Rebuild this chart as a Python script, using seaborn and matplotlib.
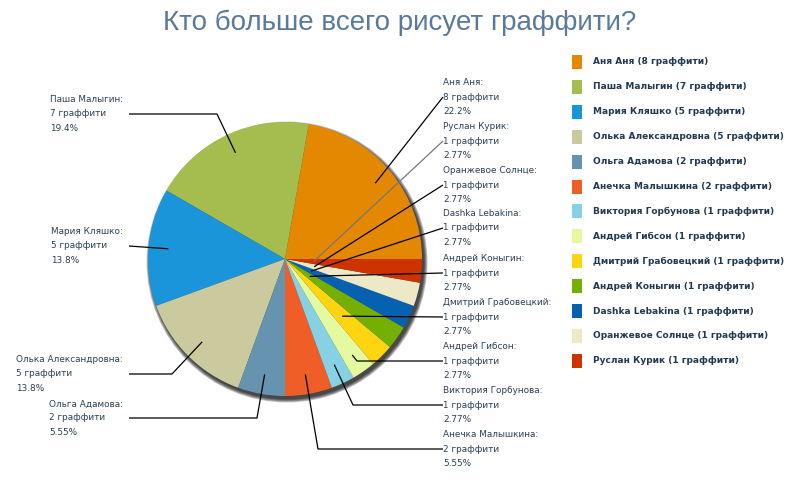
import math
import matplotlib
matplotlib.use("Agg")
import matplotlib.pyplot as plt
from matplotlib.patches import Circle, Rectangle
import seaborn as sns

# данные
names = ["Аня Аня", "Паша Малыгин", "Мария Кляшко", "Олька Александровна",
         "Ольга Адамова", "Анечка Малышкина", "Виктория Горбунова",
         "Андрей Гибсон", "Дмитрий Грабовецкий", "Андрей Коныгин",
         "Dashka Lebakina", "Оранжевое Солнце", "Руслан Курик"]
counts = [8, 7, 5, 5, 2, 2, 1, 1, 1, 1, 1, 1, 1]
colors = ["#E48701", "#A5BC4E", "#1B95D9", "#CACA9E", "#6693B0", "#F05E27",
          "#86D1E4", "#E4F9A0", "#FFD512", "#75B000", "#0662B0", "#EDE8C6",
          "#CC3300"]
title = "Кто больше всего рисует граффити?"

# раскладка подписей (пиксели): сторона, y средней строки, излом линии, радиус конца линии
label_side = ["R", "L", "L", "L", "L", "R", "R", "R", "R", "R", "R", "R", "R"]
label_y = [97, 114, 246, 374, 418, 449, 405, 361, 317, 273, 228, 185, 141]
elbow_x = [443, 217, 129, 172, 257, 318, 353, 357, 443, 443, 443, 443, 443]
end_r = [0.86, 0.855, 0.855, 0.855, 0.855, 0.855, 0.85, 0.855, 0.59, 0.22, 0.21, 0.22, 0.21]

cx, cy, R = 285, 259, 137


def trunc_pct(p):
    # проценты обрезаны до трёх значащих цифр, как в оригинале
    digits = 2 - int(math.floor(math.log10(p)))
    v = math.floor(p * 10 ** digits + 1e-9) / 10 ** digits
    return f"{v:.{digits}f}%"


sns.set_theme(style="white")
plt.rcParams["font.family"] = ["DejaVu Sans"]
palette = sns.color_palette(colors)

fig = plt.figure(figsize=(8, 5), dpi=100)
ax = fig.add_axes([0, 0, 1, 1])

# тень
for i in range(5):
    ax.add_patch(Circle((cx + 2, cy + 3), R + 3.5 - i * 0.8, color="black",
                        alpha=0.22, lw=0, zorder=1))

wedges, _ = ax.pie(counts, colors=palette, startangle=0, counterclock=False,
                   center=(cx, cy), radius=R, wedgeprops=dict(linewidth=0))
for w in wedges:
    w.set_zorder(2)

total = sum(counts)
txt_color = "#2c4052"
cum = 0
for i, (n, c) in enumerate(zip(names, counts)):
    mid = math.radians(-(cum + c / 2) / total * 360)
    cum += c
    ex = cx + end_r[i] * R * math.cos(mid)
    ey = cy + end_r[i] * R * math.sin(mid)
    y = label_y[i]
    start = 443 if label_side[i] == "R" else 129
    lc = "#777777" if n == "Руслан Курик" else "black"
    ax.plot([start, elbow_x[i], ex], [y, y, ey], color=lc, lw=0.9,
            zorder=5, solid_capstyle="butt")
    label = f"{n}:\n{c} граффити\n{trunc_pct(c / total * 100)}"
    if label_side[i] == "R":
        ax.text(443, y, label, ha="left", va="center", multialignment="left",
                fontsize=6.4, color=txt_color, linespacing=1.72, zorder=6)
    else:
        ax.text(123, y, label, ha="right", va="center", multialignment="left",
                fontsize=6.4, color=txt_color, linespacing=1.72, zorder=6)

# легенда
for i, (n, c) in enumerate(zip(names, counts)):
    ly = 62 + i * 24.9
    ax.add_patch(Rectangle((572, ly - 7), 10, 14, color=palette[i], lw=0))
    ax.text(593, ly, f"{n} ({c} граффити)", ha="left", va="center",
            fontsize=6.5, fontweight="bold", color="#223a50")

ax.text(400, 30, title, ha="center", va="baseline", fontsize=20,
        family="Liberation Sans", color="#5a7a9c")

ax.set_xlim(0, 800)
ax.set_ylim(500, 0)
ax.set_aspect("auto")
ax.axis("off")
fig.savefig("out.png", dpi=100, facecolor="white")
